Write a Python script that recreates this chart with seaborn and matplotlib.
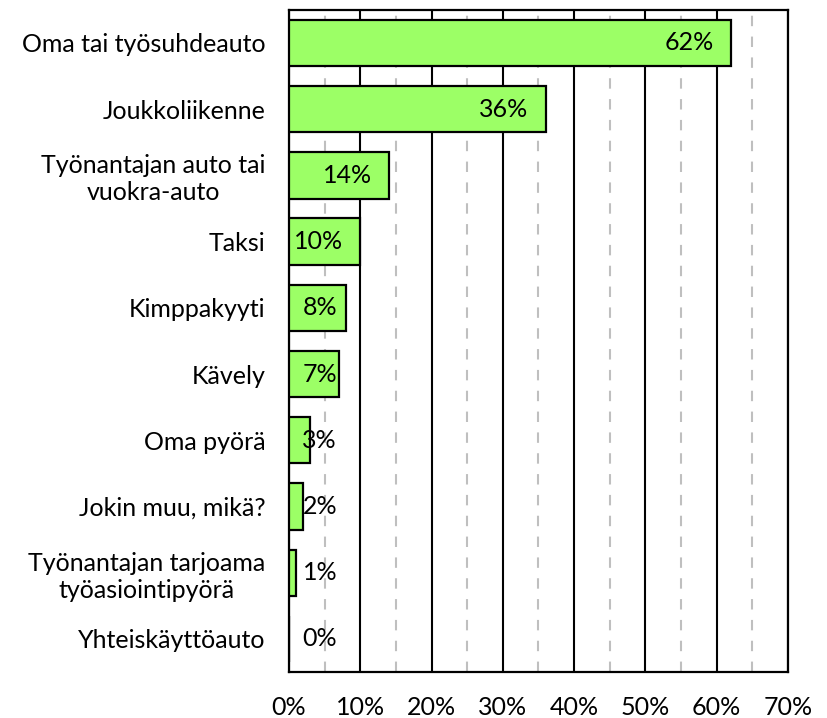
import matplotlib
matplotlib.use('Agg')
import matplotlib.pyplot as plt
import seaborn as sns
from matplotlib.ticker import MultipleLocator, PercentFormatter

# Chart data
categories = [
    'Oma tai työsuhdeauto',
    'Joukkoliikenne',
    'Työnantajan auto tai\nvuokra-auto',
    'Taksi',
    'Kimppakyyti',
    'Kävely',
    'Oma pyörä',
    'Jokin muu, mikä?',
    'Työnantajan tarjoama\ntyöasiointipyörä',
    'Yhteiskäyttöauto',
]
values = [62, 36, 14, 10, 8, 7, 3, 2, 1, 0]
labels = ['62%', '36%', '14%', '10%', '8%', '7%', '3%', '2%', '1%', '0%']

sns.set_style('white')
plt.rcParams['font.family'] = ['Lato', 'DejaVu Sans']
plt.rcParams['text.color'] = 'black'
plt.rcParams['xtick.color'] = 'black'
plt.rcParams['ytick.color'] = 'black'

fig = plt.figure(figsize=(8.28, 7.18), dpi=100)
ax = fig.add_axes([0.349, 0.064, 0.6027, 0.9224])

sns.barplot(x=values, y=categories, color='#9CFF66', saturation=1,
            edgecolor='black', linewidth=1.6, width=0.7, ax=ax, zorder=3)

ax.set_xlim(0, 70)
ax.xaxis.set_major_locator(MultipleLocator(10))
ax.xaxis.set_minor_locator(MultipleLocator(5))
ax.xaxis.set_major_formatter(PercentFormatter(decimals=0))
ax.grid(which='major', axis='x', color='black', linewidth=1.5, zorder=1)
ax.grid(which='minor', axis='x', color='#BFBFBF', linewidth=1.5,
        linestyle=(0, (5, 5)), zorder=1)
ax.set_axisbelow(True)

for s in ax.spines.values():
    s.set_visible(True)
    s.set_color('black')
    s.set_linewidth(1.6)

fs = 18
ax.tick_params(axis='both', which='both', length=0, labelsize=fs,
               labelcolor='black')
ax.tick_params(axis='y', pad=17)
ax.tick_params(axis='x', pad=17)
for t in ax.get_yticklabels():
    t.set_multialignment('center')
    t.set_linespacing(1.2)
ax.set_xlabel('')
ax.set_ylabel('')

# value labels, inside end (pushed out for short bars)
for i, (v, lab) in enumerate(zip(values, labels)):
    ax.text(max(v - 2.4, 6.75), i, lab, ha='right', va='center',
            fontsize=fs, color='black', zorder=4)

fig.savefig('out.png', dpi=100)
